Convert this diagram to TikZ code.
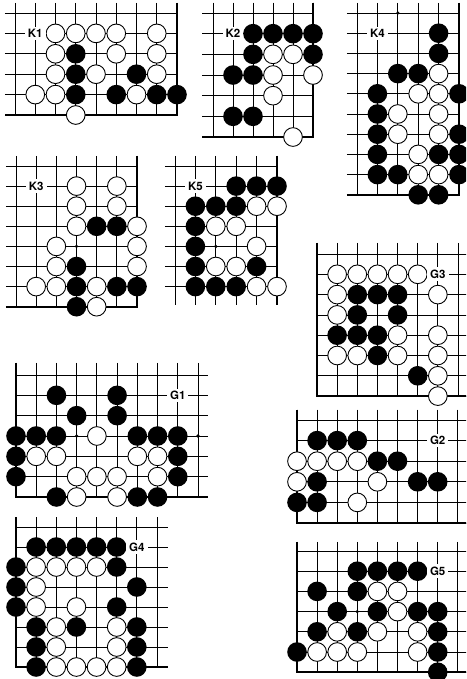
\documentclass[tikz,border=0pt]{standalone}
\usepackage{fontspec}
\setmainfont{TeX Gyre Heros}
\newcommand\grd[6]{%
  \foreach \i in {0,...,#1} {\draw[gl] (\i,#5) -- (\i,#6);}%
  \foreach \j in {0,...,#2} {\draw[gl] (#3,\j) -- (#4,\j);}%
}
\newcommand\Bstones[1]{\foreach \a/\b in {#1} {\fill[bst] (\a,\b) circle (9.8pt);}}
\newcommand\Wstones[1]{\foreach \a/\b in {#1} {\draw[wst] (\a,\b) circle (9.35pt);}}
\newcommand\hoshi[1]{\foreach \a/\b in {#1} {\fill (\a,\b) circle (1.8pt);}}
\begin{document}
\begin{tikzpicture}[x=1pt,y=-1pt,
  gl/.style={line width=0.8pt},
  edge/.style={line width=1.8pt,line join=miter},
  bst/.style={fill=black},
  wst/.style={fill=white,draw=black,line width=0.9pt},
  lbl/.style={fill=white,inner xsep=3pt,inner ysep=2.5pt,font=\bfseries\fontsize{11.5}{12}\selectfont}]
\useasboundingbox (0,0) rectangle (466,679);
\fill[white] (0,0) rectangle (466,679);
\clip (0,0) rectangle (466,679);

% K1
\begin{scope}[shift={(15,13)},x=20.25pt,y=-20.4pt]
\grd{8}{5}{-0.5}{8}{-0.5}{5}
\draw[edge] (8,-0.5) -- (8,5) -- (-0.5,5);
\Wstones{2/1,3/1,4/1,5/1,7/1,2/2,5/2,7/2,2/3,4/3,7/3,1/4,2/4,6/4,3/5}
\Bstones{3/2,3/3,6/3,3/4,5/4,7/4,8/4}
\node[lbl] (lK1) at (1,1) {K1};
\end{scope}

% K2
\begin{scope}[shift={(213,13)},x=20pt,y=-20.67pt]
\grd{5}{6}{-0.55}{5}{-0.5}{6}
\draw[edge] (5,-0.5) -- (5,6) -- (-0.55,6);
\Bstones{2/1,3/1,4/1,5/1,2/2,5/2,1/3,2/3,1/5,2/5}
\Wstones{3/2,4/2,3/3,5/3,3/4,4/6}
\node[lbl] (lK2) at (1,1) {K2};
\end{scope}

% K4
\begin{scope}[shift={(357,13)},x=20.4pt,y=-20.2pt]
\grd{5}{9}{-0.5}{5}{-0.5}{9}
\draw[edge] (5,-0.5) -- (5,9) -- (-0.5,9);
\hoshi{2/0}
\Bstones{4/1,4/2,2/3,3/3,1/4,5/4,1/5,1/6,5/6,1/7,4/7,5/7,1/8,2/8,5/8,3/9,4/9}
\Wstones{4/3,3/4,4/4,2/5,4/5,2/6,4/6,3/7,3/8,4/8}
\node[lbl] (lK4) at (1,1) {K4};
\end{scope}

% K3
\begin{scope}[shift={(16,166)},x=20.17pt,y=-20.1pt]
\grd{6}{7}{-0.5}{6}{-0.5}{7}
\draw[edge] (6,-0.5) -- (6,7) -- (-0.5,7);
\hoshi{3/4}
\Wstones{3/1,5/1,3/2,5/2,3/3,6/3,2/4,6/4,2/5,6/5,1/6,2/6,4/6,4/7}
\Bstones{4/3,5/3,3/5,3/6,5/6,6/6,3/7}
\node[lbl] (lK3) at (1,1) {K3};
\end{scope}

% K5
\begin{scope}[shift={(175,166)},x=20.4pt,y=-20.1pt]
\grd{5}{6}{-0.5}{5}{-0.5}{6.9}
\draw[edge] (5,-0.5) -- (5,6.9);
\hoshi{2/4}
\Bstones{3/1,4/1,5/1,1/2,2/2,3/2,1/3,1/4,1/5,4/5,1/6,2/6,3/6}
\Wstones{4/2,5/2,2/3,3/3,4/4,2/5,3/5,4/6,5/6}
\node[lbl] (lK5) at (1,1) {K5};
\end{scope}

% G3
\begin{scope}[shift={(317,254)},x=20.14pt,y=-20.3pt]
\grd{7}{7}{0}{7.6}{-0.55}{7}
\draw[edge] (0,-0.55) -- (0,7) -- (7.6,7);
\Wstones{1/1,2/1,3/1,4/1,5/1,1/2,6/2,1/3,4/4,6/4,1/5,2/5,4/5,6/5,6/6,6/7}
\Bstones{2/2,3/2,4/2,2/3,4/3,1/4,2/4,3/4,3/5,5/6}
\node[lbl] (lG3) at (6,1) {G3};
\end{scope}

% G1
\begin{scope}[shift={(16,375)},x=20.22pt,y=-20.33pt]
\grd{9}{6}{0}{9.5}{-0.6}{6}
\draw[edge] (0,-0.6) -- (0,6) -- (9.5,6);
\hoshi{3/3,9/3}
\Bstones{2/1,5/1,3/2,5/2,0/3,1/3,2/3,6/3,7/3,8/3,0/4,8/4,0/5,8/5,2/6,6/6,7/6}
\Wstones{4/3,1/4,2/4,6/4,7/4,3/5,4/5,5/5,7/5,3/6,5/6}
\node[lbl] (lG1) at (8,1) {G1};
\end{scope}

% G2
\begin{scope}[shift={(297,420)},x=20.1pt,y=-20.6pt]
\grd{8}{5}{0}{8.6}{-0.5}{5}
\draw[edge] (0,-0.5) -- (0,5) -- (8.6,5);
\Bstones{1/1,2/1,3/1,4/2,5/2,1/3,6/3,7/3,0/4,1/4}
\Wstones{0/2,1/2,2/2,3/2,0/3,4/3,3/4}
\node[lbl] (lG2) at (7,1) {G2};
\end{scope}

% G4
\begin{scope}[shift={(16,527)},x=20.14pt,y=-20pt]
\grd{7}{7}{0}{7.55}{-0.5}{7}
\draw[edge] (0,-0.5) -- (0,7) -- (7.55,7);
\Bstones{1/1,2/1,3/1,4/1,5/1,0/2,5/2,0/3,6/3,0/4,5/4,1/5,3/5,6/5,1/6,6/6,1/7,6/7}
\Wstones{1/2,2/2,3/2,4/2,1/3,1/4,3/4,2/5,5/5,2/6,5/6,2/7,3/7,4/7,5/7}
\node[lbl] (lG4) at (6,1) {G4};
\end{scope}

% G5
\begin{scope}[shift={(297,551)},x=20.1pt,y=-20.2pt]
\grd{8}{6}{0}{8.6}{-0.45}{6}
\draw[edge] (0,-0.45) -- (0,6) -- (8.6,6);
\hoshi{3/3}
\Bstones{3/1,4/1,5/1,6/1,1/2,3/2,2/3,4/3,6/3,7/3,1/4,3/4,7/4,0/5,7/5,7/6}
\Wstones{4/2,5/2,5/3,2/4,4/4,6/4,1/5,2/5,3/5,6/5}
\node[lbl] (lG5) at (7,1) {G5};
\end{scope}
\end{tikzpicture}
\end{document}
